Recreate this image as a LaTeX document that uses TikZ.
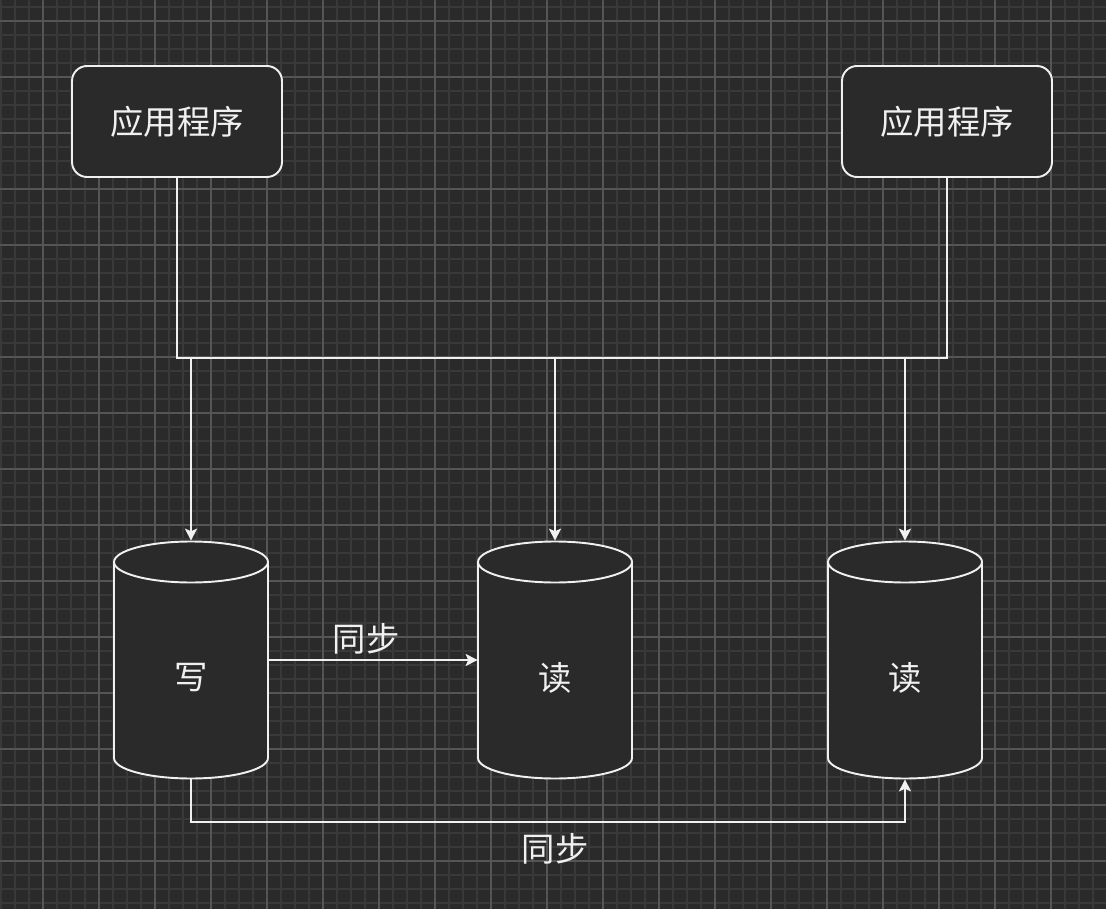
\documentclass[tikz,border=0pt]{standalone}
\usepackage{fontspec}
\usepackage{tikz}
\usetikzlibrary{arrows.meta}
\newfontfamily\cjk{Noto Sans CJK SC}
\definecolor{bgdark}{HTML}{2A2A2A}
\definecolor{gridminor}{HTML}{393939}
\definecolor{gridmajor}{HTML}{555555}
\definecolor{inkwhite}{HTML}{F0F0F0}

\begin{document}
\begin{tikzpicture}[x=0.02cm, y=-0.02cm,
        wire/.style={draw=inkwhite, line width=1.1pt},
        arr/.style={wire, -{Stealth[length=0.24cm, width=0.24cm, inset=0.05cm]}},
        lbl/.style={text=inkwhite, font=\cjk\fontsize{19}{23}\selectfont, inner sep=0pt},
        app/.style={lbl, draw=inkwhite, fill=bgdark, line width=1.1pt, rounded corners=0.3cm,
            minimum width=4.2cm, minimum height=2.22cm},
        db/.style={minimum width=3.08cm, minimum height=4.76cm, inner sep=0pt},
        dbline/.style={draw=inkwhite, fill=bgdark, line width=1.1pt}]
        \def\rx{1.54cm}
        \def\ry{0.41cm}
        % background and grid
        \fill[bgdark] (0,0) rectangle (1106,909);
        \useasboundingbox (0,0) rectangle (1106,909);
        \foreach \gx in {1,15,...,1106} \draw[gridminor, line width=0.6pt] (\gx,0) -- (\gx,909);
        \foreach \gy in {7,21,...,909} \draw[gridminor, line width=0.6pt] (0,\gy) -- (1106,\gy);
        \foreach \gx in {43,99,...,1106} \draw[gridmajor, line width=0.6pt] (\gx,0) -- (\gx,909);
        \foreach \gy in {21,77,...,909} \draw[gridmajor, line width=0.6pt] (0,\gy) -- (1106,\gy);

        \node[app] (app1) at (177,121.5) {应用程序};
        \node[app] (app2) at (947,121.5) {应用程序};

        % databases
        \foreach \n/\cx/\t in {w/191/写, r1/555/读, r2/905/读} {
            \filldraw[dbline] ({\cx-77},562) -- ({\cx-77},758)
                arc[start angle=180, end angle=360, x radius=\rx, y radius=\ry]
                -- ({\cx+77},562)
                arc[start angle=0, end angle=180, x radius=\rx, y radius=\ry] -- cycle;
            \draw[dbline, fill=none] ({\cx-77},562) arc[start angle=180, end angle=360, x radius=\rx, y radius=\ry];
            \node[db] (\n) at (\cx,660) {};
            \node[lbl] (\n-txt) at (\cx,678) {\t};
        }

        \coordinate (busL) at (177,358);
        \coordinate (busR) at (947,358);
        \coordinate (low) at (555,822);
        \draw[wire] (app1.south) -- (busL) -- (busR) -- (app2.south);
        \foreach \n in {w,r1,r2} \draw[arr] (\n.north |- busL) -- (\n.north);

        \draw[arr] (w.east) -- (r1.west);
        \node[lbl] (sync1) at (366,639) {同步};
        \draw[arr] (w.south) -- (w.south |- low) -| (r2.south);
        \node[lbl] (sync2) at (555,849) {同步};
    \end{tikzpicture}
\end{document}
